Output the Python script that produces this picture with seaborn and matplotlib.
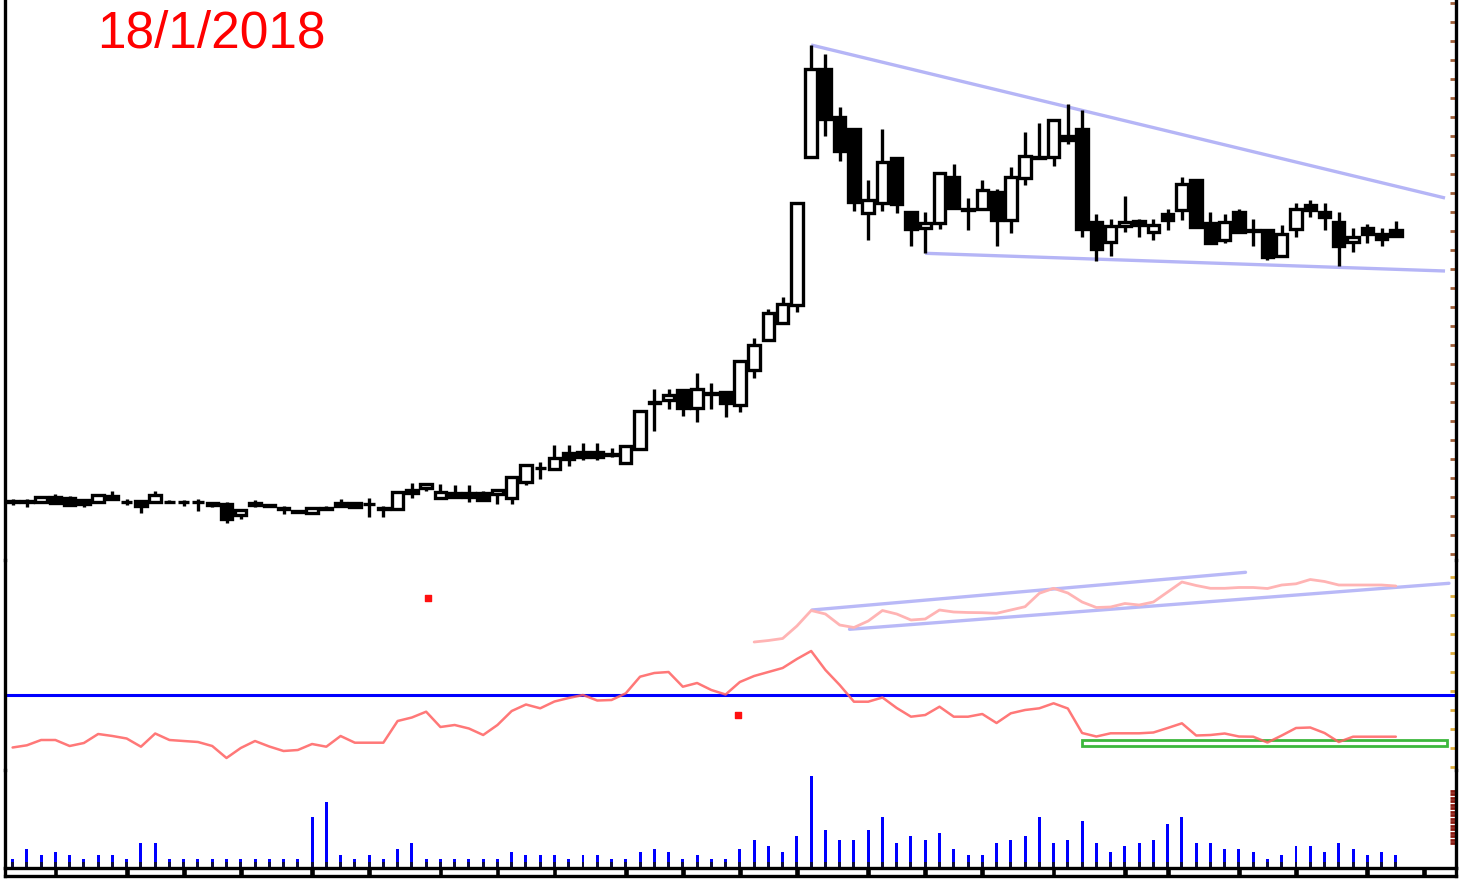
import numpy as np
import pandas as pd
import matplotlib
matplotlib.use("Agg")
import matplotlib.pyplot as plt
from matplotlib.patches import Rectangle
import seaborn as sns

sns.set_theme(style="white")
plt.rcParams['font.family'] = ['Liberation Sans', 'DejaVu Sans']

# ---------------- data ----------------
title_text = "18/1/2018"

opens = [5.85, 5.85, 5.80, 6.35, 6.25, 6.00, 5.80, 6.40, 5.85, 5.87,
         5.80, 5.85, 5.85, 5.80, 5.70, 5.60, 4.55, 5.75, 5.50, 5.20,
         4.90, 4.67, 5.20, 5.70, 5.70, 5.65, 5.20, 5.07, 7.00, 7.17,
         6.17, 6.75, 6.75, 6.75, 6.60, 6.25, 7.85, 9.23, 9.07, 10.67,
         10.83, 10.83, 10.60, 9.73, 11.07, 15.80, 16.00, 17.00, 15.20, 16.70,
         16.83, 15.50, 19.00, 22.00, 23.67, 25.50, 40.33, 49.07, 44.27, 43.07,
         34.73, 35.67, 40.17, 34.83, 33.17, 33.73, 38.33, 35.10, 35.07, 36.83,
         34.00, 38.17, 40.30, 40.27, 42.40, 43.07, 33.80, 31.80, 33.37, 33.90,
         32.80, 34.60, 34.98, 38.00, 33.70, 32.03, 34.80, 33.00, 32.97, 30.45,
         33.14, 35.50, 34.80, 33.80, 31.80, 33.24, 32.63, 32.97]
highs = [6.13, 6.13, 6.30, 6.60, 6.40, 6.10, 6.55, 6.87, 6.10, 6.00,
         6.87, 6.00, 6.00, 6.13, 5.80, 5.80, 5.00, 6.00, 5.65, 5.40,
         5.00, 5.30, 5.40, 6.07, 5.80, 6.20, 5.40, 6.85, 7.67, 7.70,
         7.60, 7.50, 7.50, 6.90, 7.10, 8.30, 9.60, 9.83, 11.50, 11.50,
         11.73, 11.73, 11.20, 11.50, 15.00, 17.13, 17.10, 17.10, 18.73, 17.73,
         16.90, 20.00, 22.17, 25.07, 26.27, 35.80, 51.50, 50.60, 45.27, 43.10,
         38.00, 43.07, 40.20, 34.90, 34.83, 38.70, 39.60, 36.17, 38.00, 37.10,
         39.33, 42.83, 43.73, 44.00, 45.60, 45.00, 34.64, 34.14, 36.40, 34.14,
         34.14, 35.15, 38.33, 38.05, 34.80, 34.60, 35.15, 34.14, 33.00, 33.54,
         35.72, 36.05, 35.70, 34.80, 33.24, 33.57, 33.24, 33.90]
lows = [5.47, 5.27, 5.75, 5.70, 5.50, 5.27, 5.70, 6.10, 5.50, 4.70,
        5.70, 5.70, 5.40, 4.87, 5.30, 3.75, 4.10, 5.30, 5.30, 4.60,
        4.70, 4.60, 5.00, 5.30, 5.20, 4.33, 4.33, 5.00, 6.17, 6.93,
        6.10, 6.30, 5.83, 5.90, 5.60, 5.60, 7.50, 8.07, 9.00, 9.40,
        10.00, 10.00, 10.30, 9.70, 11.00, 12.93, 15.10, 14.40, 13.80, 15.10,
        14.33, 14.83, 18.20, 21.90, 23.60, 24.83, 40.30, 42.40, 39.93, 34.93,
        32.00, 34.93, 34.70, 31.40, 30.67, 33.07, 35.10, 33.00, 35.00, 31.40,
        32.73, 37.50, 40.10, 39.40, 41.60, 32.33, 29.95, 30.45, 32.80, 32.30,
        32.03, 33.03, 33.97, 33.25, 31.65, 31.70, 32.75, 31.36, 30.02, 30.40,
        32.30, 34.30, 33.03, 29.45, 30.80, 31.70, 31.36, 32.30]
closes = [5.87, 5.87, 6.27, 5.75, 5.55, 5.60, 6.47, 6.13, 5.80, 5.40,
          6.47, 5.80, 5.80, 5.77, 5.50, 4.10, 5.00, 5.50, 5.45, 5.15,
          4.85, 5.17, 5.15, 5.40, 5.33, 5.60, 5.15, 6.80, 6.75, 7.65,
          6.80, 6.33, 6.35, 6.00, 7.00, 8.27, 9.55, 9.20, 10.17, 10.07,
          10.33, 10.33, 10.50, 11.45, 14.93, 15.75, 16.50, 15.20, 17.10, 16.65,
          15.67, 19.93, 21.50, 24.73, 25.60, 35.73, 49.07, 44.07, 40.93, 35.83,
          36.00, 39.83, 35.60, 33.07, 33.73, 38.67, 35.17, 35.05, 37.00, 34.00,
          38.33, 40.40, 40.25, 43.95, 42.00, 33.07, 31.12, 33.37, 33.80, 33.47,
          33.47, 33.97, 37.60, 33.30, 31.70, 33.80, 32.80, 32.95, 30.35, 32.63,
          35.15, 35.05, 34.30, 31.36, 32.30, 32.57, 32.13, 32.36]
volumes = [9.4, 18.8, 12.7, 15.7, 12.7, 9.4, 12.7, 12.7, 9.4, 24.8,
           24.8, 9.4, 9.4, 9.4, 9.4, 9.4, 9.4, 9.4, 9.4, 9.4,
           9.4, 51.0, 66.0, 12.7, 9.4, 12.7, 9.4, 18.8, 24.8, 9.4,
           9.4, 9.4, 9.4, 9.4, 9.4, 15.7, 12.7, 12.7, 12.7, 9.4,
           12.7, 12.7, 9.4, 9.4, 15.7, 18.8, 15.7, 9.4, 12.7, 9.4,
           9.4, 18.8, 27.8, 21.8, 15.7, 31.8, 92.2, 37.9, 27.8, 27.8,
           37.9, 51.0, 24.8, 31.8, 27.8, 34.9, 18.8, 12.7, 12.7, 24.8,
           27.8, 31.8, 51.0, 24.8, 27.8, 46.9, 24.8, 15.7, 21.8, 24.8,
           27.8, 43.9, 51.0, 24.8, 24.8, 18.8, 18.8, 15.7, 9.4, 12.7,
           21.8, 21.8, 15.7, 24.8, 18.8, 12.7, 15.7, 12.7]
rsi = [15.0, 16.47, 20.0, 20.0, 16.0, 18.0, 24.0, 22.67, 21.0, 15.53,
       24.33, 20.0, 19.33, 18.67, 16.0, 8.0, 14.67, 19.33, 15.67, 12.67,
       13.33, 17.33, 15.53, 22.67, 18.2, 18.2, 18.2, 32.67, 35.0, 38.87,
       28.67, 30.0, 27.67, 23.33, 30.0, 39.33, 43.67, 41.13, 45.67, 48.0,
       50.0, 46.33, 46.67, 51.13, 62.2, 64.67, 65.33, 55.53, 58.0, 53.33,
       50.33, 58.67, 62.67, 65.33, 68.0, 74.0, 79.33, 66.67, 56.67, 45.53,
       45.53, 48.33, 41.33, 35.53, 36.67, 42.2, 35.53, 35.53, 37.33, 31.33,
       37.8, 40.0, 41.13, 44.47, 41.0, 24.67, 22.33, 24.47, 24.47, 24.47,
       25.0, 28.0, 31.13, 23.0, 23.33, 24.33, 22.33, 22.2, 18.33, 23.0,
       28.0, 28.33, 24.67, 18.67, 22.2, 22.2, 22.2, 22.2]
upper_ind = [np.nan] * 52 + [
    85.33, 86.33, 87.67, 96.0, 106.33, 104.0, 96.67, 95.0, 99.33, 106.33,
    104.0, 100.0, 100.67, 106.67, 105.33, 105.0, 104.87, 104.47, 106.67, 108.87,
    117.8, 121.13, 118.0, 112.0, 108.33, 108.67, 111.0, 110.0, 112.0, 118.67,
    125.33, 123.0, 121.13, 121.13, 121.67, 121.67, 121.0, 123.33, 124.13, 127.0,
    125.67, 123.33, 123.33, 123.33, 123.33, 122.67]

# trendlines (x in bar index, y in panel units)
price_res_x, price_res_y = [56.0, 100.45], [51.5, 36.2]
price_sup_x, price_sup_y = [64.0, 100.45], [30.67, 28.9]
ind_top_x, ind_top_y = [56.06, 86.46], [106.67, 131.8]
ind_bot_x, ind_bot_y = [58.69, 100.73], [93.8, 124.47]
rsi_level = 50.0
box_x, box_y = [75.0, 100.6], [16.0, 20.0]
mark_x, mark_y = [29.1, 50.86], [114.67, 36.67]
week_ticks = [3, 8, 12, 16, 21, 25, 30, 34, 38, 43, 47, 51, 55, 60, 64,
              68, 73, 78, 81, 86, 90, 95, 99]

df = pd.DataFrame({"open": opens, "high": highs, "low": lows,
                   "close": closes, "volume": volumes, "rsi": rsi,
                   "upper": upper_ind})
df["idx"] = np.arange(len(df))

# ---------------- figure ----------------
W, H = 1461, 881
fig = plt.figure(figsize=(W / 100, H / 100), dpi=100)
fig.patch.set_facecolor("white")

def px_axes(top, bottom, left=5, right=1456):
    return fig.add_axes([left / W, 1 - bottom / H, (right - left) / W, (bottom - top) / H])

ax_p = px_axes(0, 560)
ax_i = px_axes(560, 770)
ax_v = px_axes(770, 868)
ax_s = px_axes(868, 876)

xlim = (-0.533, 101.22)
for ax in (ax_p, ax_i, ax_v, ax_s):
    ax.set_xlim(*xlim)
    ax.set_facecolor("white")
    ax.patch.set_alpha(0)
    ax.set_xticks([])
    ax.set_yticks([])
    for s in ("top", "bottom"):
        ax.spines[s].set_visible(False)
    for s in ("left", "right"):
        ax.spines[s].set_visible(True)
        ax.spines[s].set_color("black")
        ax.spines[s].set_linewidth(2.4)

# price panel
ax_p.set_ylim(0, 56)
tl_color = "#a8a8f5"
ax_p.plot(price_res_x, price_res_y, color=tl_color, lw=2.4, alpha=0.85, zorder=1, solid_capstyle="butt")
ax_p.plot(price_sup_x, price_sup_y, color=tl_color, lw=2.4, alpha=0.85, zorder=1, solid_capstyle="butt")
up = df["close"] >= df["open"]
body_bot = np.minimum(df["open"], df["close"])
body_h = np.maximum(np.abs(df["close"] - df["open"]), 0.02)
ax_p.vlines(df["idx"], df["low"], df["high"], color="black", lw=2.4, zorder=2)
ax_p.bar(df["idx"], body_h, bottom=body_bot, width=0.8,
         color=np.where(up, "white", "black"), edgecolor="black",
         linewidth=2.4, zorder=3)
ax_p.set_yticks(np.arange(0.6, 56, 1.9))
ax_p.tick_params(axis="y", direction="in", length=4, width=2, colors="#a0603a",
                 right=True, left=False, labelright=False, labelleft=False)

# indicator panel
ax_i.set_ylim(0, 140)
ax_i.axhline(rsi_level, color="#0000ff", lw=2.2, zorder=2)
sns.lineplot(data=df, x="idx", y="upper", ax=ax_i, color="#ffb4b4", lw=2.0, zorder=3)
ax_i.plot(ind_top_x, ind_top_y, color=tl_color, lw=2.4, alpha=0.8, zorder=2)
ax_i.plot(ind_bot_x, ind_bot_y, color=tl_color, lw=2.4, alpha=0.8, zorder=2)
sns.lineplot(data=df, x="idx", y="rsi", ax=ax_i, color="#ff6060", lw=1.8, alpha=0.85, zorder=4)
ax_i.add_patch(Rectangle((box_x[0], box_y[0]), box_x[1] - box_x[0], box_y[1] - box_y[0],
                         fill=False, edgecolor="#3cb83c", lw=2.0, zorder=3))
ax_i.scatter(mark_x, mark_y, marker="s", s=22, color="#ff1010", zorder=5)
ax_i.set_xlabel("")
ax_i.set_ylabel("")
ax_i.set_xticks([])
ax_i.set_yticks(np.arange(2, 140, 12.7))
ax_i.tick_params(axis="y", direction="in", length=4, width=2, colors="#e0b040",
                 right=True, left=False, labelright=False, labelleft=False)

# volume panel
ax_v.set_ylim(0, 98)
ax_v.bar(df["idx"], df["volume"], width=0.21, color="#0000ff", zorder=2,
         linewidth=0, antialiased=False)
ax_v.bar(df["idx"], np.full(len(df), 6.0), width=0.21, color="#101040", zorder=3,
         linewidth=0, antialiased=False)
ax_v.set_yticks(np.arange(25, 80, 3.5))
ax_v.tick_params(axis="y", direction="in", length=4, width=2, colors="#8b1a10",
                 right=True, left=False, labelright=False, labelleft=False)

# bottom strip (time axis)
ax_s.set_ylim(0, 1)
for s in ("top", "bottom"):
    ax_s.spines[s].set_visible(True)
    ax_s.spines[s].set_linewidth(2.4)
    ax_s.spines[s].set_color("black")
ax_s.bar(week_ticks, np.ones(len(week_ticks)), width=0.4, color="black")

fig.text(97 / W, 1 - 48 / H, title_text, color="#ff0000", fontsize=37,
         ha="left", va="baseline", family=["Liberation Sans", "DejaVu Sans"])

fig.savefig("out.png", dpi=100)
